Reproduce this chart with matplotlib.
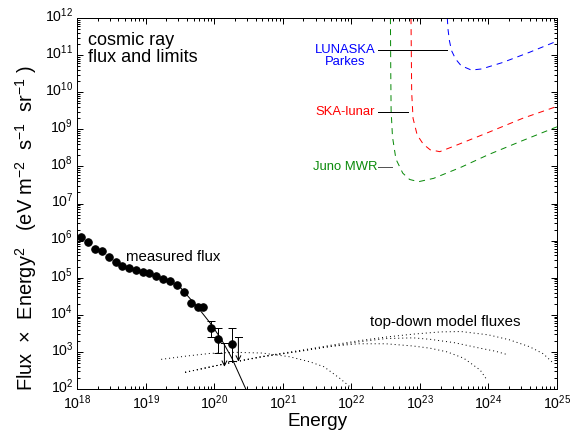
import numpy as np
import matplotlib
matplotlib.use("Agg")
import matplotlib.pyplot as plt
import matplotlib.transforms as mtransforms

plt.rcParams['font.family'] = ['Liberation Sans', 'DejaVu Sans']
plt.rcParams['mathtext.fontset'] = 'custom'
plt.rcParams['mathtext.rm'] = 'Liberation Sans'
plt.rcParams['mathtext.it'] = 'Liberation Sans:italic'
plt.rcParams['mathtext.bf'] = 'Liberation Sans:bold'

# ---- measured cosmic-ray flux (log10 E [eV], log10 flux*E^2) ----
meas_logE = [18.06, 18.165, 18.26, 18.36, 18.47, 18.56, 18.66, 18.76, 18.86, 18.96,
             19.05, 19.15, 19.25, 19.35, 19.46, 19.565, 19.66, 19.76, 19.84]
meas_logF = [6.10, 5.97, 5.77, 5.73, 5.57, 5.42, 5.32, 5.27, 5.21, 5.16,
             5.12, 5.06, 4.96, 4.91, 4.80, 4.62, 4.33, 4.22, 4.22]

# points with error bars
err_logE = [19.955, 20.06, 20.255]
err_logF = [3.65, 3.34, 3.21]
err_hi = [3.84, 3.64, 3.64]
err_lo = [3.41, 2.96, 2.76]

# upper limits
ul_logE = [20.148, 20.352]
ul_top = [3.23, 3.39]
ul_tip = [2.60, 2.74]

# fitted spectrum line
fit_logE = [19.5, 19.56, 19.76, 19.94, 20.1, 20.255, 20.46]
fit_logF = [4.75, 4.62, 4.20, 3.78, 3.35, 2.84, 2.00]

# ---- top-down model fluxes ----
td1_logE = [19.225, 19.6, 19.94, 20.3, 20.7, 21.1, 21.4, 21.6, 21.83, 21.98]
td1_logF = [2.80, 2.89, 2.96, 2.99, 2.97, 2.87, 2.73, 2.60, 2.29, 2.06]

tdA_logE = [19.575, 20.18, 20.7, 21.25, 21.7, 22.1, 22.5, 22.9, 23.3, 23.6, 24.0, 24.3, 24.6, 24.8, 24.95]
tdA_logF = [2.45, 2.69, 2.88, 3.04, 3.18, 3.30, 3.40, 3.48, 3.54, 3.55, 3.46, 3.33, 3.14, 2.95, 2.69]

tdB_logE = [19.575, 20.18, 20.7, 21.25, 21.7, 22.1, 22.5, 22.9, 23.15, 23.5, 23.88, 24.1, 24.29]
tdB_logF = [2.45, 2.69, 2.87, 3.02, 3.15, 3.27, 3.36, 3.38, 3.34, 3.25, 3.10, 3.02, 2.92]

tdC_logE = [19.575, 20.18, 20.7, 21.25, 21.7, 22.1, 22.5, 22.9, 23.15, 23.4, 23.64, 23.88, 23.98]
tdC_logF = [2.45, 2.69, 2.87, 3.02, 3.15, 3.22, 3.22, 3.16, 3.10, 3.00, 2.83, 2.51, 2.24]

# ---- experimental limits ----
lun_logE = [23.40, 23.41, 23.43, 23.46, 23.52, 23.6, 23.75, 23.9, 24.2, 24.6, 25.0]
lun_logF = [12.0, 11.7, 11.4, 11.13, 10.9, 10.72, 10.60, 10.63, 10.80, 11.08, 11.38]

ska_logE = [22.87, 22.875, 22.88, 22.9, 22.96, 23.05, 23.15, 23.29, 23.5, 24.0, 24.5, 25.0]
ska_logF = [12.0, 11.0, 10.0, 9.3, 8.85, 8.6, 8.45, 8.40, 8.55, 8.92, 9.30, 9.62]

juno_logE = [22.57, 22.575, 22.58, 22.6, 22.65, 22.75, 22.85, 22.98, 23.2, 23.6, 24.0, 24.5, 25.0]
juno_logF = [12.0, 10.5, 9.5, 8.8, 8.2, 7.82, 7.65, 7.59, 7.68, 7.98, 8.32, 8.70, 9.07]

def p(a):
    return 10.0 ** np.asarray(a, dtype=float)

fig = plt.figure(figsize=(8, 6), dpi=72)
ax = fig.add_axes([0.134, 0.0995, 0.833, 0.8585])
ax.set_xscale('log')
ax.set_yscale('log')
ax.set_xlim(1e18, 1e25)
ax.set_ylim(1e2, 1e12)

# model fluxes
for xe, yf in [(td1_logE, td1_logF), (tdA_logE, tdA_logF), (tdB_logE, tdB_logF), (tdC_logE, tdC_logF)]:
    ax.plot(p(xe), p(yf), color='black', lw=1.0, linestyle=(0, (1, 3)))

# limits
dash = (0, (6, 5))
ax.plot(p(lun_logE), p(lun_logF), color='#0000ff', lw=1.0, linestyle=dash)
ax.plot(p(ska_logE), p(ska_logF), color='#ff0000', lw=1.0, linestyle=dash)
ax.plot(p(juno_logE), p(juno_logF), color='#0a8a0a', lw=1.0, linestyle=dash)

# fit line
ax.plot(p(fit_logE), p(fit_logF), color='black', lw=1.0)

# measured points
ax.plot(p(meas_logE), p(meas_logF), 'o', color='black', ms=7.5)
yerr = [p(err_logF) - p(err_lo), p(err_hi) - p(err_logF)]
ax.errorbar(p(err_logE), p(err_logF), yerr=yerr, fmt='o', color='black', ms=7.5,
            capsize=4, elinewidth=1.0, capthick=1.0)

# upper limits
for xe, yt, yb in zip(ul_logE, ul_top, ul_tip):
    x = 10 ** xe
    ax.annotate('', xy=(x, 10 ** yb), xytext=(x, 10 ** yt),
                arrowprops=dict(arrowstyle='->', color='black', lw=1.0,
                                shrinkA=0, shrinkB=0, mutation_scale=12))
    ax.plot([x / 10 ** 0.05, x * 10 ** 0.05], [10 ** yt, 10 ** yt], color='black', lw=1.0)

# labels for limits
ax.text(10 ** 21.91, 10 ** 11.14, 'LUNASKA', color='#0000ff', fontsize=13,
        ha='center', va='center')
ax.text(10 ** 21.91, 10 ** 10.82, 'Parkes', color='#0000ff', fontsize=13,
        ha='center', va='center')
ax.plot([10 ** 22.39, 10 ** 23.40], [10 ** 11.14, 10 ** 11.14], color='black', lw=1.0)
ax.text(10 ** 21.91, 10 ** 9.47, 'SKA-lunar', color='#ff0000', fontsize=13,
        ha='center', va='center')
ax.plot([10 ** 22.39, 10 ** 22.83], [10 ** 9.47, 10 ** 9.47], color='black', lw=1.0)
ax.text(10 ** 21.91, 10 ** 7.98, 'Juno MWR', color='#0a8a0a', fontsize=13,
        ha='center', va='center')
ax.plot([10 ** 22.39, 10 ** 22.59], [10 ** 7.98, 10 ** 7.98], color='#555555', lw=1.0)

ax.text(0.022, 0.962, 'cosmic ray\nflux and limits', transform=ax.transAxes,
        fontsize=18, ha='left', va='top', linespacing=1.0)
ax.text(10 ** 18.71, 10 ** 5.57, 'measured flux', fontsize=15, ha='left', va='center')
ax.text(10 ** 22.27, 10 ** 3.8, 'top-down model fluxes', fontsize=15, ha='left', va='center')

ax.set_xlabel('Energy', fontsize=19, labelpad=1)
ax.set_ylabel(r'Flux  $\times$  Energy$^2$   (eV m$^{-2}$  s$^{-1}$  sr$^{-1}$ )', fontsize=20)
ax.yaxis.set_label_coords(-0.08, 0.434)

ax.xaxis.set_major_locator(matplotlib.ticker.LogLocator(base=10, numticks=20))
ax.yaxis.set_major_locator(matplotlib.ticker.LogLocator(base=10, numticks=20))
ax.xaxis.set_minor_locator(matplotlib.ticker.LogLocator(base=10, subs=np.arange(2, 10), numticks=20))
ax.yaxis.set_minor_locator(matplotlib.ticker.LogLocator(base=10, subs=np.arange(2, 10), numticks=20))
ax.xaxis.set_minor_formatter(matplotlib.ticker.NullFormatter())
ax.yaxis.set_minor_formatter(matplotlib.ticker.NullFormatter())
ax.tick_params(which='both', direction='in', top=True, right=True, labelsize=14, width=1.0)
ax.tick_params(which='major', length=6, pad=4)
ax.tick_params(which='minor', length=3)
for s in ax.spines.values():
    s.set_linewidth(1.0)

shift = mtransforms.ScaledTranslation(0, 4 / 72, fig.dpi_scale_trans)
for lab in ax.get_yticklabels():
    lab.set_transform(lab.get_transform() + shift)

fig.savefig('out.png', dpi=72)
